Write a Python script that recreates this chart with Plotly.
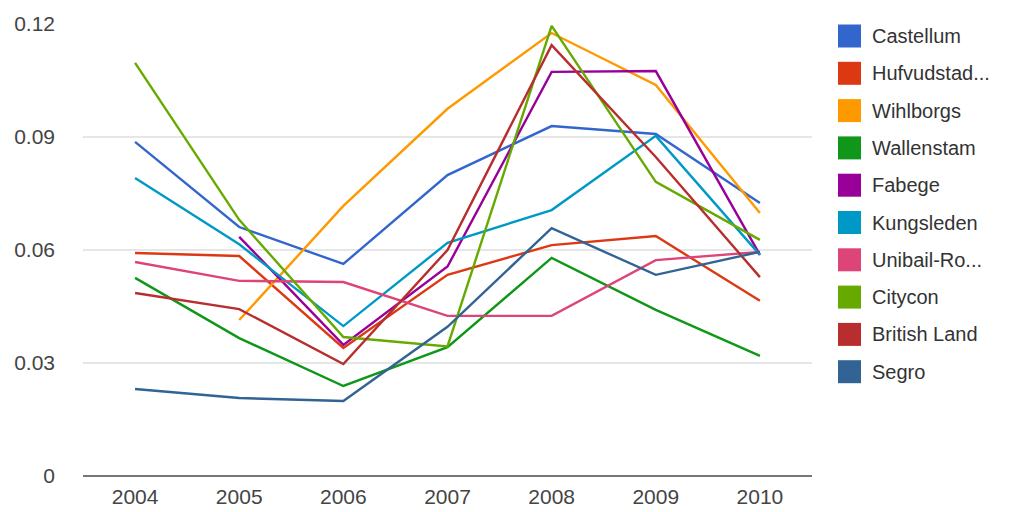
import plotly.graph_objects as go

years = ["2004", "2005", "2006", "2007", "2008", "2009", "2010"]

castellum    = [0.0887, 0.0661, 0.0563, 0.0799, 0.0929, 0.0908, 0.0725]
hufvudstaden = [0.0592, 0.0584, 0.0340, 0.0534, 0.0613, 0.0637, 0.0465]
wihlborgs    = [None,   0.0414, 0.0717, 0.0975, 0.1176, 0.1038, 0.0698]
wallenstam   = [0.0526, 0.0366, 0.0239, 0.0342, 0.0579, 0.0441, 0.0319]
fabege       = [None,   0.0635, 0.0348, 0.0556, 0.1073, 0.1075, 0.0587]
kungsleden   = [0.0791, 0.0615, 0.0398, 0.0619, 0.0706, 0.0903, 0.0587]
unibail      = [0.0568, 0.0518, 0.0515, 0.0425, 0.0425, 0.0573, 0.0595]
citycon      = [0.1097, 0.0680, 0.0369, 0.0344, 0.1195, 0.0781, 0.0627]
british_land = [0.0486, 0.0443, 0.0297, 0.0600, 0.1144, 0.0847, 0.0528]
segro        = [0.0231, 0.0207, 0.0199, 0.0396, 0.0658, 0.0534, 0.0595]

series_names = ["Castellum", "Hufvudstaden", "Wihlborgs", "Wallenstam", "Fabege",
                "Kungsleden", "Unibail-Rodamco", "Citycon", "British Land", "Segro"]
legend_labels = ["Castellum", "Hufvudstad...", "Wihlborgs", "Wallenstam", "Fabege",
                 "Kungsleden", "Unibail-Ro...", "Citycon", "British Land", "Segro"]
series_values = [castellum, hufvudstaden, wihlborgs, wallenstam, fabege,
                 kungsleden, unibail, citycon, british_land, segro]
colors = ["#3366cc", "#dc3912", "#ff9900", "#109618", "#990099",
          "#0099c6", "#dd4477", "#66aa00", "#b82e2e", "#316395"]

y_tickvals = [0, 0.03, 0.06, 0.09, 0.12]
y_ticktext = ["0", "0.03", "0.06", "0.09", "0.12"]

W, H = 1011, 512
L, R, T, B = 83, 199, 24, 36
pw, ph = W - L - R, H - T - B

def px_x(px):
    return (px - L) / pw

def px_y(py):
    return (H - B - py) / ph

fig = go.Figure()
for name, vals, col in zip(series_names, series_values, colors):
    fig.add_trace(go.Scatter(x=years, y=vals, mode="lines", name=name,
                             line=dict(color=col, width=2.4), showlegend=False,
                             connectgaps=False))

shapes = []
annotations = []
for i, (lab, col) in enumerate(zip(legend_labels, colors)):
    cy = 36 + 37.3 * i
    shapes.append(dict(type="rect", xref="paper", yref="paper",
                       x0=px_x(838), x1=px_x(861), y0=px_y(cy + 11.5), y1=px_y(cy - 11.5),
                       fillcolor=col, line=dict(width=0)))
    annotations.append(dict(xref="paper", yref="paper", x=px_x(870), y=px_y(cy),
                            text=lab, showarrow=False, xanchor="left", yanchor="middle",
                            font=dict(family="Liberation Sans, Arial", size=20, color="#333333")))

fig.update_layout(
    width=W, height=H,
    margin=dict(l=L, r=R, t=T, b=B, pad=0, autoexpand=False),
    paper_bgcolor="white", plot_bgcolor="white",
    font=dict(family="Liberation Sans, Arial", size=20, color="#444444"),
    shapes=shapes, annotations=annotations,
    showlegend=False,
    xaxis=dict(type="category", range=[-0.5, 6.5], showgrid=False, zeroline=False,
               showline=False, ticks="", tickfont=dict(size=21, color="#444444"),
               ticklabelstandoff=6, fixedrange=True, automargin=False),
    yaxis=dict(range=[0, 0.12], tickvals=y_tickvals, ticktext=y_ticktext,
               showgrid=True, gridcolor="#e6e6e6", gridwidth=1.5,
               zeroline=True, zerolinecolor="#777777", zerolinewidth=2,
               showline=False, ticks="", tickfont=dict(size=21, color="#444444"),
               ticklabelstandoff=27, fixedrange=True, automargin=False),
)

fig.write_html("out.html")
